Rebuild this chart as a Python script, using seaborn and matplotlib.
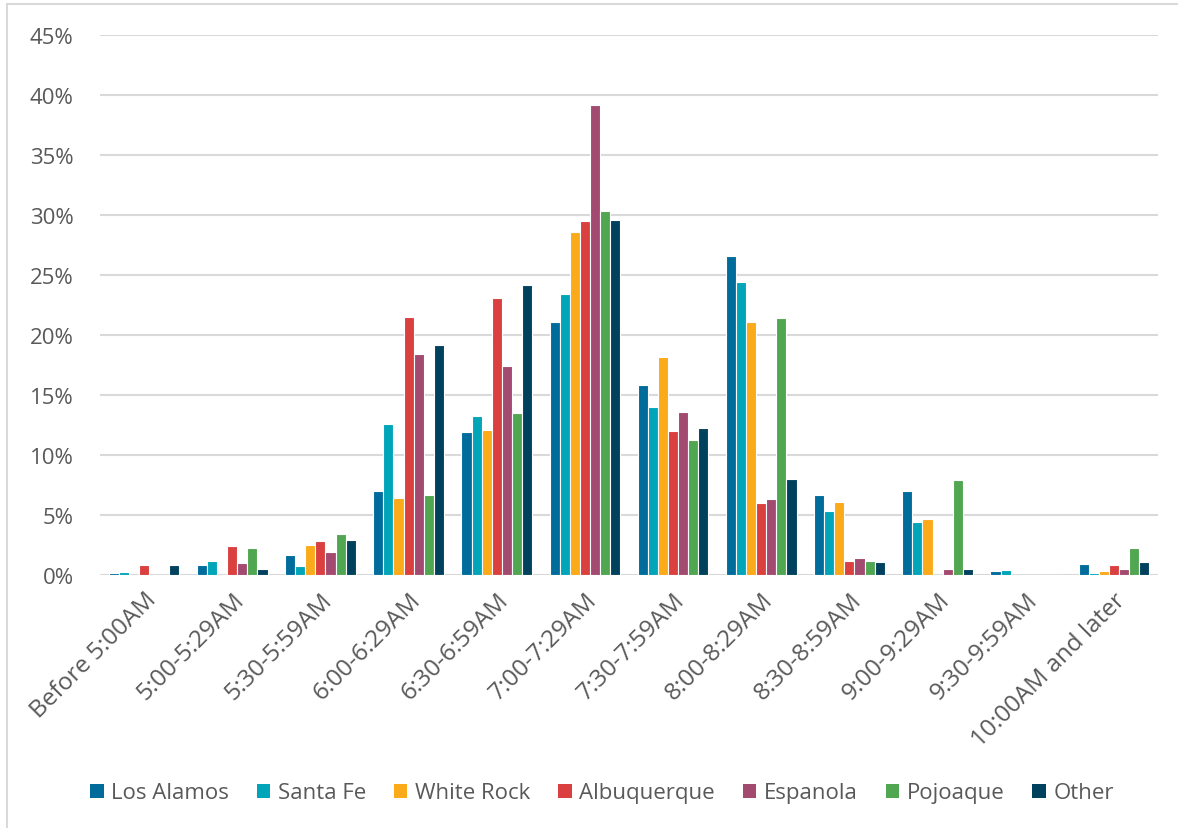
import matplotlib
matplotlib.use("Agg")
import matplotlib.pyplot as plt
import matplotlib.lines as mlines
import seaborn as sns
import pandas as pd
from matplotlib.ticker import PercentFormatter, MultipleLocator

time_slots = [
    "Before 5:00AM", "5:00-5:29AM", "5:30-5:59AM", "6:00-6:29AM",
    "6:30-6:59AM", "7:00-7:29AM", "7:30-7:59AM", "8:00-8:29AM",
    "8:30-8:59AM", "9:00-9:29AM", "9:30-9:59AM", "10:00AM and later",
]
places = ["Los Alamos", "Santa Fe", "White Rock", "Albuquerque",
          "Espanola", "Pojoaque", "Other"]

los_alamos  = [0.17, 0.8, 1.7, 7.0, 11.9, 21.1, 15.8, 26.6, 6.7, 7.0, 0.3, 0.95]
santa_fe    = [0.22, 1.17, 0.75, 12.6, 13.25, 23.4, 14.0, 24.4, 5.35, 4.4, 0.4, 0.2]
white_rock  = [0.0, 0.0, 2.5, 6.4, 12.1, 28.6, 18.2, 21.1, 6.05, 4.65, 0.0, 0.35]
albuquerque = [0.8, 2.4, 2.8, 21.5, 23.1, 29.5, 12.0, 6.0, 1.2, 0.0, 0.0, 0.8]
espanola    = [0.0, 1.0, 1.95, 18.4, 17.4, 39.2, 13.55, 6.3, 1.45, 0.5, 0.0, 0.5]
pojoaque    = [0.0, 2.25, 3.4, 6.7, 13.5, 30.3, 11.25, 21.4, 1.15, 7.9, 0.0, 2.25]
other       = [0.8, 0.53, 2.9, 19.2, 24.2, 29.55, 12.25, 8.0, 1.05, 0.53, 0.0, 1.08]

series = [los_alamos, santa_fe, white_rock, albuquerque, espanola, pojoaque, other]
colors = ["#006C9C", "#00A5B9", "#FBAA19", "#D9403F", "#A24A70", "#51A651", "#00415E"]

df = pd.DataFrame(
    [(slot, place, vals[i])
     for place, vals in zip(places, series)
     for i, slot in enumerate(time_slots)],
    columns=["slot", "place", "share"],
)

sns.set_theme(style="white")
plt.rcParams["font.family"] = ["Open Sans", "DejaVu Sans"]

fig = plt.figure(figsize=(11.78, 8.29), dpi=100)
ax = fig.add_axes([100 / 1178, 1 - 576 / 829, 1058 / 1178, 540 / 829])

sns.barplot(
    data=df, x="slot", y="share", hue="place", order=time_slots,
    hue_order=places, palette=colors, saturation=1, width=0.8, ax=ax,
    edgecolor="white", linewidth=0.8, legend=False, zorder=3,
)

ax.set_ylim(0, 45)
ax.set_xlim(-0.5, len(time_slots) - 0.5)
ax.yaxis.set_major_locator(MultipleLocator(5))
ax.yaxis.set_major_formatter(PercentFormatter(decimals=0))
ax.grid(axis="y", color="#D9D9D9", linewidth=1.5, zorder=0)
ax.set_axisbelow(True)
for s in ax.spines.values():
    s.set_visible(False)
ax.set_xlabel("")
ax.set_ylabel("")

label_color = "#595959"
ax.tick_params(axis="y", length=0, pad=19, labelsize=16, labelcolor=label_color)
ax.tick_params(axis="x", length=0, pad=9, labelsize=17.5, labelcolor=label_color)
plt.setp(ax.get_xticklabels(), rotation=45, ha="right", rotation_mode="anchor")

handles = [plt.Rectangle((0, 0), 1, 1, facecolor=c, edgecolor="none") for c in colors]
fig.legend(
    handles, places, loc="center", bbox_to_anchor=(602 / 1178, 1 - 794 / 829),
    ncol=len(places), frameon=False, fontsize=16, handlelength=0.6,
    handleheight=0.6, handletextpad=0.35, columnspacing=1.25,
    labelcolor=label_color,
)

# outer chart frame
fig.add_artist(mlines.Line2D([7 / 1178, 7 / 1178], [0, 1 - 5 / 829],
                             color="#D9D9D9", linewidth=1.5, transform=fig.transFigure))
fig.add_artist(mlines.Line2D([7 / 1178, 1], [1 - 5 / 829, 1 - 5 / 829],
                             color="#D9D9D9", linewidth=1.5, transform=fig.transFigure))

fig.savefig("out.png", dpi=100)
